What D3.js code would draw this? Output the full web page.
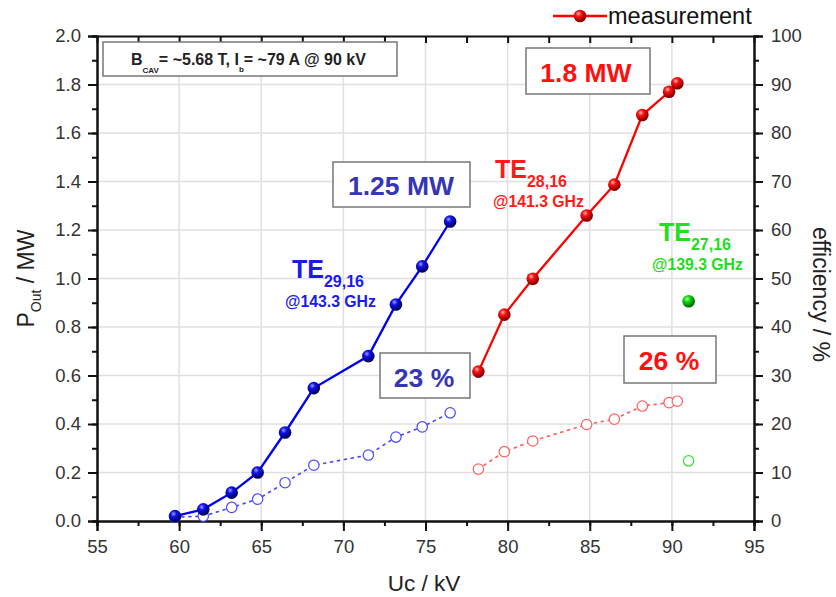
<!DOCTYPE html>
<html><head><meta charset="utf-8">
<script src="https://cdn.jsdelivr.net/npm/d3@7"></script>
<style>body{margin:0;background:#fff;} svg{display:block;font-family:"Liberation Sans",Arial,sans-serif;}</style>
</head><body>
<svg id="chart" width="836" height="597"></svg>
<script>
// ---------- data ----------
const xTicks = [55, 60, 65, 70, 75, 80, 85, 90, 95];
const yLeftTicks = [0.0, 0.2, 0.4, 0.6, 0.8, 1.0, 1.2, 1.4, 1.6, 1.8, 2.0];
const yRightTicks = [0, 10, 20, 30, 40, 50, 60, 70, 80, 90, 100];

const blueU = [59.75, 61.47, 63.2, 64.78, 66.45, 68.2, 71.52, 73.2, 74.8, 76.5];
const bluePower = [0.02, 0.048, 0.117, 0.2, 0.365, 0.548, 0.68, 0.893, 1.05, 1.235];
const blueEff = [0.8, 1.0, 2.8, 4.5, 7.9, 11.5, 13.6, 17.3, 19.4, 22.3];

const redU = [78.22, 79.8, 81.53, 84.81, 86.5, 88.2, 89.83, 90.33];
const redPower = [0.616, 0.851, 0.999, 1.26, 1.387, 1.674, 1.77, 1.805];
const redEff = [10.7, 14.3, 16.5, 19.9, 21.0, 23.7, 24.4, 24.7];

const greenU = [91.02];
const greenPower = [0.906];
const greenEff = [12.4];

// ---------- layout ----------
const svg = d3.select("#chart");
const L = 97, R = 754, T = 36, B = 521;
const x = d3.scaleLinear().domain([55, 95]).range([L, R]);
const yP = d3.scaleLinear().domain([0, 2]).range([B, T]);
const yE = d3.scaleLinear().domain([0, 100]).range([B, T]);

svg.append("rect").attr("width", 836).attr("height", 597).attr("fill", "#fff");

// gradients for sphere markers
const defs = svg.append("defs");
function sphere(id, light, mid, dark) {
  const g = defs.append("radialGradient").attr("id", id).attr("cx", "38%").attr("cy", "32%").attr("r", "65%");
  g.append("stop").attr("offset", "0%").attr("stop-color", light);
  g.append("stop").attr("offset", "35%").attr("stop-color", mid);
  g.append("stop").attr("offset", "100%").attr("stop-color", dark);
}
sphere("gBlue", "#a0a0ff", "#1010ee", "#00005a");
sphere("gRed", "#ffb8b8", "#ff1010", "#800000");
sphere("gGreen", "#b8ffb8", "#10dd10", "#006800");

// grid
const gridX = [60, 65, 70, 75, 80, 85, 90];
const gridY = [0.2, 0.4, 0.6, 0.8, 1.0, 1.2, 1.4, 1.6, 1.8];
svg.append("g").selectAll("line").data(gridX).join("line")
  .attr("x1", d => x(d)).attr("x2", d => x(d)).attr("y1", T).attr("y2", B)
  .attr("stroke", "#e0e0e0").attr("stroke-width", 1.5);
svg.append("g").selectAll("line").data(gridY).join("line")
  .attr("y1", d => yP(d)).attr("y2", d => yP(d)).attr("x1", L).attr("x2", R)
  .attr("stroke", "#e0e0e0").attr("stroke-width", 1.5);

// axes
const fmt1 = d3.format(".1f");
function styleAxis(g) {
  g.selectAll("path.domain").attr("stroke", "#111").attr("stroke-width", 2);
  g.selectAll(".tick line").attr("stroke", "#111").attr("stroke-width", 2);
  g.selectAll("text").attr("fill", "#333").style("font-size", "18.5px").style("font-family", "Liberation Sans, Arial, sans-serif");
}
const xMinor = d3.range(55, 95.01, 2.5);
svg.append("g").attr("transform", `translate(0,${B})`)
  .call(d3.axisBottom(x).tickValues(xMinor).tickSize(5).tickFormat(""))
  .call(styleAxis);
svg.append("g").attr("transform", `translate(0,${B})`)
  .call(d3.axisBottom(x).tickValues(xTicks).tickSize(10).tickPadding(9).tickFormat(d3.format("d")))
  .call(styleAxis);
svg.append("g").attr("transform", `translate(0,${T})`)
  .call(d3.axisTop(x).tickValues(xMinor).tickSizeInner(-7).tickSizeOuter(0).tickFormat(""))
  .call(styleAxis);

const yMinor = d3.range(0, 2.001, 0.1);
svg.append("g").attr("transform", `translate(${L},0)`)
  .call(d3.axisLeft(yP).tickValues(yMinor).tickSize(5).tickFormat(""))
  .call(styleAxis);
svg.append("g").attr("transform", `translate(${L},0)`)
  .call(d3.axisLeft(yP).tickValues(yLeftTicks).tickSize(9).tickPadding(7).tickFormat(fmt1))
  .call(styleAxis);

const eMinor = d3.range(0, 100.01, 5);
svg.append("g").attr("transform", `translate(${R},0)`)
  .call(d3.axisRight(yE).tickValues(eMinor).tickSize(5).tickFormat(""))
  .call(styleAxis);
svg.append("g").attr("transform", `translate(${R},0)`)
  .call(d3.axisRight(yE).tickValues(yRightTicks).tickSize(9).tickPadding(8).tickFormat(d3.format("d")))
  .call(styleAxis);

// axis titles
svg.append("text").attr("x", 424).attr("y", 591).attr("text-anchor", "middle")
  .style("font-size", "22.5px").attr("fill", "#222").text("Uc / kV");
const yt = svg.append("text").attr("transform", `translate(34,${(T + B) / 2}) rotate(-90)`)
  .attr("text-anchor", "middle").style("font-size", "23px").attr("fill", "#222");
yt.append("tspan").text("P");
yt.append("tspan").attr("dy", 7).style("font-size", "14px").text("Out");
yt.append("tspan").attr("dy", -7).text(" / MW");
svg.append("text").attr("transform", `translate(813,${(T + B) / 2 + 16}) rotate(90)`)
  .attr("text-anchor", "middle").style("font-size", "23px").attr("fill", "#222").text("efficiency / %");

// series
function effSeries(U, E, color) {
  const pts = U.map((u, i) => [u, E[i]]);
  svg.append("path").datum(pts)
    .attr("d", d3.line().x(d => x(d[0])).y(d => yE(d[1])))
    .attr("fill", "none").attr("stroke", color).attr("stroke-width", 1.7)
    .attr("stroke-dasharray", "2,5").attr("stroke-linecap", "round");
  svg.append("g").selectAll("circle").data(pts).join("circle")
    .attr("cx", d => x(d[0])).attr("cy", d => yE(d[1])).attr("r", 5.2)
    .attr("fill", "#fff").attr("stroke", color).attr("stroke-width", 1.2);
}
function powSeries(U, P, color, grad, line) {
  const pts = U.map((u, i) => [u, P[i]]);
  if (line) svg.append("path").datum(pts)
    .attr("d", d3.line().x(d => x(d[0])).y(d => yP(d[1])))
    .attr("fill", "none").attr("stroke", color).attr("stroke-width", 2.3);
  svg.append("g").selectAll("circle").data(pts).join("circle")
    .attr("cx", d => x(d[0])).attr("cy", d => yP(d[1])).attr("r", 6.3)
    .attr("fill", `url(#${grad})`);
}
effSeries(blueU, blueEff, "#4a4aff");
effSeries(redU, redEff, "#ff6060");
effSeries(greenU, greenEff, "#33dd33");
powSeries(blueU, bluePower, "#0000ee", "gBlue", true);
powSeries(redU, redPower, "#ff0000", "gRed", true);
powSeries(greenU, greenPower, "#11dd11", "gGreen", false);

// boxes
function box(x0, y0, w, h) {
  svg.append("rect").attr("x", x0).attr("y", y0).attr("width", w).attr("height", h)
    .attr("fill", "#fff").attr("stroke", "#777").attr("stroke-width", 1.5);
}
box(103, 42, 294, 34);
const info = svg.append("text").attr("x", 131).attr("y", 65)
  .style("font-size", "16px").style("font-weight", "bold").attr("fill", "#222");
info.append("tspan").text("B");
info.append("tspan").attr("dy", 8).style("font-size", "8px").text("CAV");
info.append("tspan").attr("dy", -8).text("= ~5.68 T, I");
info.append("tspan").attr("dy", 7).style("font-size", "8px").text("b");
info.append("tspan").attr("dy", -7).text("= ~79 A @ 90 kV");

const boxFont = "26.5px";
box(333, 162, 137, 45);
svg.append("text").attr("x", 401).attr("y", 195).attr("text-anchor", "middle")
  .style("font-size", boxFont).style("font-weight", "bold").attr("fill", "#3535b5").text("1.25 MW");
box(380, 353, 90, 45);
svg.append("text").attr("x", 424).attr("y", 387).attr("text-anchor", "middle")
  .style("font-size", boxFont).style("font-weight", "bold").attr("fill", "#3535b5").text("23 %");
box(526, 48, 124, 46);
svg.append("text").attr("x", 586).attr("y", 82).attr("text-anchor", "middle")
  .style("font-size", boxFont).style("font-weight", "bold").attr("fill", "#ff1010").text("1.8 MW");
box(624, 336, 92, 47);
svg.append("text").attr("x", 669).attr("y", 370).attr("text-anchor", "middle")
  .style("font-size", boxFont).style("font-weight", "bold").attr("fill", "#ff1010").text("26 %");

// mode labels
function modeLabel(xp, yb, sub, freq, color, fx) {
  const t = svg.append("text").attr("x", xp).attr("y", yb).attr("fill", color).style("font-weight", "bold");
  t.append("tspan").style("font-size", "25px").text("TE");
  t.append("tspan").attr("dy", 9).style("font-size", "16px").text(sub);
  svg.append("text").attr("x", fx).attr("y", yb + 29).attr("fill", color)
    .style("font-weight", "bold").style("font-size", "15.8px").text(freq);
}
modeLabel(292, 278, "29,16", "@143.3 GHz", "#1a1af0", 285);
modeLabel(495, 178, "28,16", "@141.3 GHz", "#ff1a1a", 493);
modeLabel(659, 241, "27,16", "@139.3 GHz", "#22dd22", 652);

// legend
svg.append("line").attr("x1", 553).attr("x2", 607).attr("y1", 16).attr("y2", 16)
  .attr("stroke", "#ff0000").attr("stroke-width", 2.3);
svg.append("circle").attr("cx", 580).attr("cy", 16).attr("r", 6.3).attr("fill", "url(#gRed)");
svg.append("text").attr("x", 608).attr("y", 24).style("font-size", "23.5px").attr("fill", "#111").text("measurement");
</script>
</body></html>
